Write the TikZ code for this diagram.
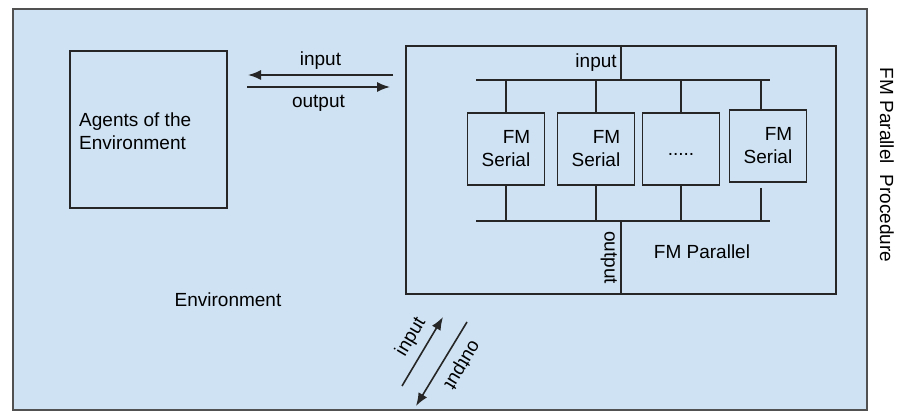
\documentclass[tikz,border=0pt]{standalone}
\usepackage{fontspec}
\setmainfont{Liberation Sans}
\usetikzlibrary{arrows.meta,positioning}
\definecolor{envblue}{HTML}{CFE2F3}
\definecolor{inkgray}{HTML}{262626}

\begin{document}
\begin{tikzpicture}[x=1pt, y=-1pt, font=\fontsize{19}{23}\selectfont,
  box/.style={draw=inkgray, line width=1.6pt, fill=envblue, anchor=north west, inner sep=0pt},
  serialbox/.style={draw=inkgray, line width=1.6pt, fill=envblue, minimum width=77, minimum height=72, align=right},
  wire/.style={draw=inkgray, line width=1.6pt},
  flow/.style={wire, -{Latex[length=13pt, width=10pt]}}]
  \useasboundingbox (0,0) rectangle (898,411);

  % Umgebung und Agenten
  \node[box, minimum width=854, minimum height=401, draw=inkgray!80] (env) at (12,8) {};
  \node at (228,300) (envlab) {Environment};
  \node[box, minimum width=157, minimum height=157] (agents) at (69,50) {};
  \node[anchor=west, align=left, inner sep=0pt] (agentslab) at (79,131) {Agents of the\\Environment};

  % FM Parallel mit vier seriellen Bausteinen
  \node[box, minimum width=430, minimum height=248] (par) at (405,45) {};
  \node (parlab) at (702,252) {FM Parallel};
  \node[serialbox] (s1) at (506,149) {FM\\Serial};
  \node[serialbox] (s2) at (596,149) {FM\\Serial};
  \node[serialbox] (s3) at (681,149) {\vphantom{FM}.....};
  \node[serialbox] (s4) at (768,146) {FM\\Serial};

  \coordinate (ibL) at (476,80);  \coordinate (ibR) at (770,80);
  \coordinate (obL) at (476,221); \coordinate (obR) at (770,221);
  \draw[wire] (ibL) -- (ibR);
  \draw[wire] (obL) -- (obR);
  \draw[wire] (par.north) -- node[left] (inlab) {input} (par.north |- ibL);
  \draw[wire] (par.north |- obL) -- node[rotate=-90, anchor=north, inner sep=3pt] (outlab) {output} (par.south);
  \foreach \s in {s1,s2,s3} {
    \draw[wire] (\s.north) -- (\s.north |- ibL);
    \draw[wire] (\s.south) -- (\s.south |- obL);
  }
  \draw[wire] ([xshift=-7pt]s4.north) -- ([xshift=-7pt]s4.north |- ibL);
  \draw[wire] ([xshift=-7pt,yshift=-5pt]s4.south) -- ([xshift=-7pt]s4.south |- obL);

  % Pfeile zwischen Agenten und FM Parallel
  \coordinate (topA) at (393,75);  \coordinate (topB) at (248,75);
  \coordinate (topC) at (247,87);  \coordinate (topD) at (390,87);
  \draw[flow] (topA) -- node[above=1pt] (toplabin) {input} (topB);
  \draw[flow] (topC) -- node[below=4pt] (toplabout) {output} (topD);

  % Pfeile nach unten
  \coordinate (botA) at (402,386); \coordinate (botB) at (443,317);
  \coordinate (botC) at (467,322); \coordinate (botD) at (416,406);
  \draw[flow] (botA) -- node[pos=0.58, sloped, above=4pt] (botlabin) {input} (botB);
  \draw[flow] (botC) -- node[pos=0.4, sloped, allow upside down, above=5pt] (botlabout) {output} (botD);

  \node[rotate=-90] (proclab) at (887,165) {FM Parallel~ Procedure};
\end{tikzpicture}
\end{document}
